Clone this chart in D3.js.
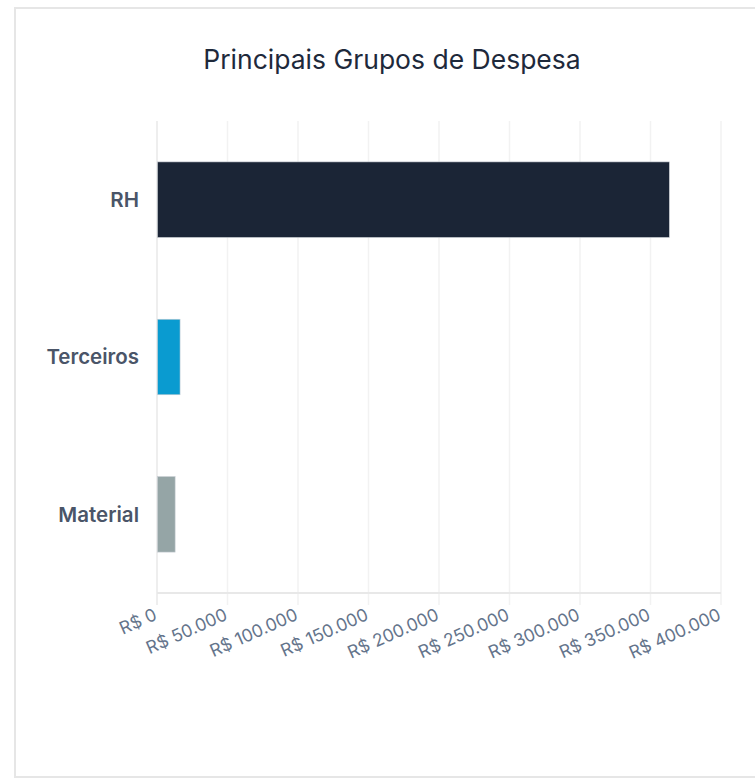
<!DOCTYPE html>
<html>
<head>
<meta charset="utf-8">
<script src="https://cdn.jsdelivr.net/npm/d3@7"></script>
<style>
  html, body { margin: 0; padding: 0; background: #fff; }
  svg { display: block; font-family: Inter, "Noto Sans", sans-serif; }
</style>
</head>
<body>
<svg id="chart" width="755" height="778"></svg>
<script>
  // Data
  const categories = ["RH", "Terceiros", "Material"];
  const values = [363000, 16000, 12500];
  const colors = ["#1b2536", "#0a9bd0", "#95a5a6"];
  const ticks = [0, 50000, 100000, 150000, 200000, 250000, 300000, 350000, 400000];

  const svg = d3.select("#chart");
  const margin = { top: 121, left: 157, right: 34, bottom: 185 };
  const w = 755 - margin.left - margin.right;
  const h = 778 - margin.top - margin.bottom;

  // Card
  svg.append("rect")
    .attr("x", 15).attr("y", 8).attr("width", 760).attr("height", 769)
    .attr("fill", "#fff").attr("stroke", "#e6e6e6").attr("stroke-width", 2);

  // Title
  svg.append("text")
    .attr("x", 392).attr("y", 69)
    .attr("text-anchor", "middle").attr("fill", "#1e293b")
    .attr("font-size", 26.5).text("Principais Grupos de Despesa");

  const g = svg.append("g").attr("transform", `translate(${margin.left},${margin.top})`);

  const x = d3.scaleLinear().domain([0, 400000]).range([0, w]);
  const y = d3.scaleBand().domain(categories).range([0, h]).paddingInner(0.52).paddingOuter(0.26);

  const fmt = d => "R$ " + d3.format(",")(d).replace(/,/g, ".");

  // Grid lines
  g.append("g").selectAll("line")
    .data(ticks)
    .enter().append("line")
    .attr("x1", d => x(d)).attr("x2", d => x(d))
    .attr("y1", 0).attr("y2", h + 12)
    .attr("stroke", d => d === 0 ? "#e8e8e8" : "#f2f2f2").attr("stroke-width", 1.5);

  // X axis line
  g.append("line")
    .attr("x1", 0).attr("x2", w).attr("y1", h).attr("y2", h)
    .attr("stroke", "#e8e8e8").attr("stroke-width", 2);

  // X tick labels, rotated
  g.append("g").selectAll("text")
    .data(ticks)
    .enter().append("text")
    .attr("transform", d => `translate(${x(d) + 1},${h + 26}) rotate(-24)`)
    .attr("text-anchor", "end")
    .attr("fill", "#64748b").attr("font-size", 17.5)
    .text(fmt);

  // Y labels
  g.append("g").selectAll("text")
    .data(categories)
    .enter().append("text")
    .attr("x", -18).attr("y", d => y(d) + y.bandwidth() / 2)
    .attr("dy", "0.35em").attr("text-anchor", "end")
    .attr("fill", "#4a5568").attr("font-size", 20.5).attr("font-weight", 600)
    .text(d => d);

  // Bars
  g.selectAll(".bar")
    .data(categories)
    .enter().append("rect")
    .attr("x", x(0) + 0.5)
    .attr("y", d => y(d))
    .attr("width", (d, i) => x(values[i]) - x(0))
    .attr("height", y.bandwidth())
    .attr("fill", (d, i) => colors[i])
    .attr("stroke", "#c8cdd3").attr("stroke-width", 0.6);
</script>
</body>
</html>
